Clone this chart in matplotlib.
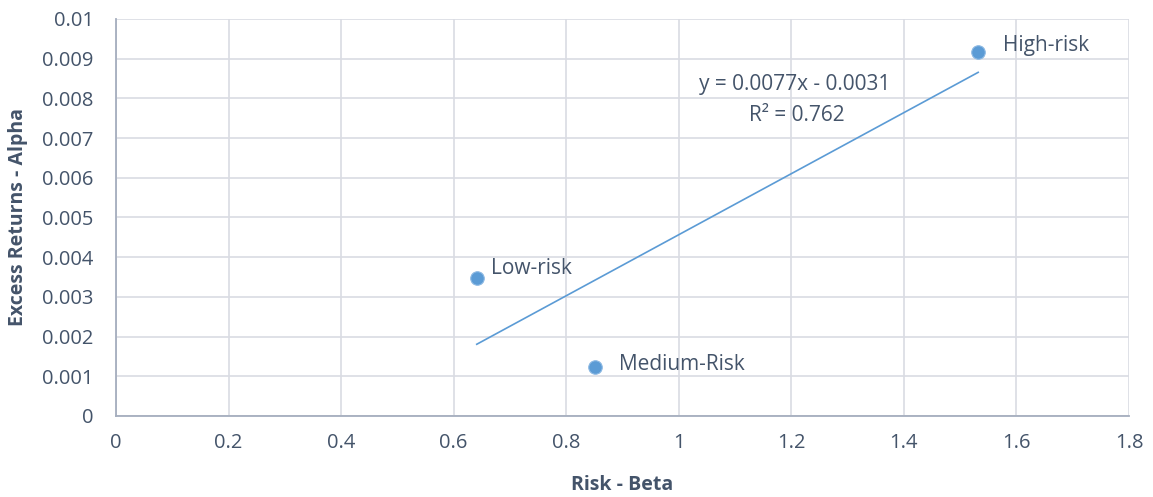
import numpy as np
import matplotlib
matplotlib.use("Agg")
import matplotlib.pyplot as plt

plt.rcParams['font.family'] = ['Open Sans', 'DejaVu Sans']

labels = ["Low-risk", "Medium-Risk", "High-risk"]
beta = [0.641, 0.851, 1.532]
alpha = [0.00348, 0.00123, 0.00917]
label_offsets = [(10, 6.5), (17, 2), (18, 4.5)]
x_ticks = [0, 0.2, 0.4, 0.6, 0.8, 1, 1.2, 1.4, 1.6, 1.8]
x_ticklabels = ["0", "0.2", "0.4", "0.6", "0.8", "1", "1.2", "1.4", "1.6", "1.8"]
y_ticks = [0, 0.001, 0.002, 0.003, 0.004, 0.005, 0.006, 0.007, 0.008, 0.009, 0.01]
y_ticklabels = ["0", "0.001", "0.002", "0.003", "0.004", "0.005", "0.006",
                "0.007", "0.008", "0.009", "0.01"]

text_c = "#44546A"
grid_c = "#D9DCE3"
spine_c = "#A5AEBE"
blue = "#5B9BD5"
fs_tick = 14.5
fs_text = 15
fs_label = 14

fig = plt.figure(figsize=(11.53, 4.97), dpi=100)
ax = fig.add_axes([0.1006, 0.163, 0.8786, 0.799])

ax.set_xlim(0, 1.8)
ax.set_ylim(0, 0.01)
ax.set_xticks(x_ticks)
ax.set_xticklabels(x_ticklabels)
ax.set_yticks(y_ticks)
ax.set_yticklabels(y_ticklabels)
ax.grid(True, color=grid_c, linewidth=1.2)
ax.set_axisbelow(True)
for s in ["top", "right"]:
    ax.spines[s].set_visible(False)
for s in ["left", "bottom"]:
    ax.spines[s].set_color(spine_c)
    ax.spines[s].set_linewidth(1.3)
ax.tick_params(length=0, labelsize=fs_tick, labelcolor=text_c)
ax.tick_params(axis='x', pad=12)
ax.tick_params(axis='y', pad=16)

# trendline
coef = np.polyfit(beta, alpha, 1)
xs = np.array([min(beta), max(beta)])
ax.plot(xs, np.polyval(coef, xs), color=blue, linewidth=1.2, zorder=2)

ax.scatter(beta, alpha, s=95, color=blue, edgecolors="#8DB9E3", linewidths=0.8, zorder=3)

for lab, x, y, off in zip(labels, beta, alpha, label_offsets):
    ax.annotate(lab, (x, y), xytext=off, textcoords="offset points",
                fontsize=fs_text, color=text_c, va="center", ha="left")

ax.text(1.2065, 0.00836, "y = 0.0077x - 0.0031", fontsize=fs_text, color=text_c,
        ha="center", va="center")
ax.text(1.21, 0.00756, "R² = 0.762", fontsize=fs_text, color=text_c,
        ha="center", va="center")

ax.set_xlabel("Risk - Beta", fontsize=fs_label, fontweight="bold", color=text_c)
ax.set_ylabel("Excess Returns - Alpha", fontsize=fs_label, fontweight="bold", color=text_c)
ax.xaxis.set_label_coords((622 - 116) / 1013, -(475 - 416) / 397)
ax.yaxis.set_label_coords(-(116 - 28) / 1013, (416 - 217) / 397)

fig.savefig("out.png", dpi=100)
